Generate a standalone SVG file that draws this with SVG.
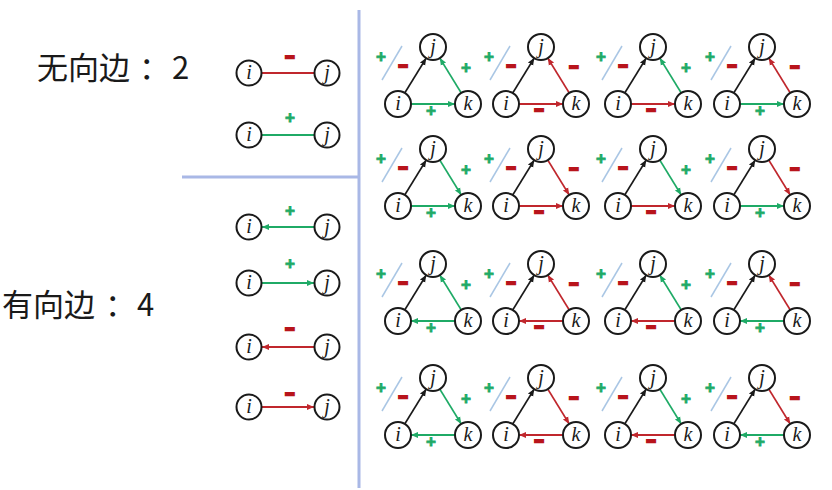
<svg xmlns="http://www.w3.org/2000/svg" width="832" height="490" viewBox="0 0 832 490">
<style>
.bg{fill:#ffffff}
.div{stroke:#a9b8e6;stroke-width:3;fill:none}
.node circle{fill:#ffffff;stroke:#1a1a1a;stroke-width:2}
.node text{font-family:"Liberation Serif",serif;font-style:italic;font-size:20px;text-anchor:middle;fill:#1a1a1a}
.e{fill:none;stroke-width:1.8}
.k{stroke:#1a1a1a;marker-end:url(#ak)}
.g{stroke:#1faa66;marker-end:url(#ag)}
.r{stroke:#c0272d;marker-end:url(#ar)}
.g0{stroke:#1faa66}
.r0{stroke:#c0272d}
.p{font-family:"Liberation Sans",sans-serif;font-weight:bold;font-size:17px;text-anchor:middle;fill:#1faa66;stroke:#1faa66;stroke-width:0.8}
.m{font-family:"Liberation Sans",sans-serif;font-weight:bold;font-size:15px;text-anchor:middle;fill:#b8141b;stroke:#b8141b;stroke-width:2.6}
.sl{stroke:#a9c6e4;stroke-width:1.5;fill:none}
.big{font-family:"Noto Sans CJK SC","Noto Sans",sans-serif;font-size:31px;fill:#1a1a1a}
</style>
<defs>
<marker id="ak" markerUnits="userSpaceOnUse" markerWidth="8" markerHeight="7" refX="7" refY="3.5" orient="auto"><path d="M0,0.5L7,3.5L0,6.5z" fill="#1a1a1a"/></marker>
<marker id="ag" markerUnits="userSpaceOnUse" markerWidth="8" markerHeight="7" refX="7" refY="3.5" orient="auto"><path d="M0,0.5L7,3.5L0,6.5z" fill="#1faa66"/></marker>
<marker id="ar" markerUnits="userSpaceOnUse" markerWidth="8" markerHeight="7" refX="7" refY="3.5" orient="auto"><path d="M0,0.5L7,3.5L0,6.5z" fill="#c0272d"/></marker>
</defs>
<rect class="bg" x="0" y="0" width="832" height="490"/>

<g id="titles">
<text class="big" x="37" y="79">无向边<tspan x="139">：</tspan><tspan x="172">2</tspan></text>
<text class="big" x="2" y="316">有向边<tspan x="105">：</tspan><tspan x="137">4</tspan></text>
</g>

<g id="dividers">
<path class="div" d="M359,10L359,488"/>
<path class="div" d="M182,177L359,177"/>
</g>

<g id="connectors">
<g id="left-edges">
<path class="e r0" d="M262,73L314,73"/>
<path class="e g0" d="M262,135L314,135"/>
<path class="e g" d="M314,227L262,227"/>
<path class="e g" d="M262,283L314,283"/>
<path class="e r" d="M314,347L262,347"/>
<path class="e r" d="M262,407L314,407"/>
</g>
<g id="e-r1c1" transform="translate(433,47)"><path class="e k" d="M-28.2,45.9L-6.8,11.1"/><path class="e g" d="M28.2,45.9L6.8,11.1"/><path class="e g" d="M-22,57L22,57"/></g>
<g id="e-r1c2" transform="translate(541,47)"><path class="e k" d="M-28.2,45.9L-6.8,11.1"/><path class="e r" d="M28.2,45.9L6.8,11.1"/><path class="e r" d="M-22,57L22,57"/></g>
<g id="e-r1c3" transform="translate(653,47)"><path class="e k" d="M-28.2,45.9L-6.8,11.1"/><path class="e g" d="M28.2,45.9L6.8,11.1"/><path class="e r" d="M-22,57L22,57"/></g>
<g id="e-r1c4" transform="translate(762,47)"><path class="e k" d="M-28.2,45.9L-6.8,11.1"/><path class="e r" d="M28.2,45.9L6.8,11.1"/><path class="e g" d="M-22,57L22,57"/></g>

<g id="e-r2c1" transform="translate(433,149)"><path class="e k" d="M-28.2,45.9L-6.8,11.1"/><path class="e g" d="M6.8,11.1L28.2,45.9"/><path class="e g" d="M-22,57L22,57"/></g>
<g id="e-r2c2" transform="translate(541,149)"><path class="e k" d="M-28.2,45.9L-6.8,11.1"/><path class="e r" d="M6.8,11.1L28.2,45.9"/><path class="e r" d="M-22,57L22,57"/></g>
<g id="e-r2c3" transform="translate(653,149)"><path class="e k" d="M-28.2,45.9L-6.8,11.1"/><path class="e g" d="M6.8,11.1L28.2,45.9"/><path class="e r" d="M-22,57L22,57"/></g>
<g id="e-r2c4" transform="translate(762,149)"><path class="e k" d="M-28.2,45.9L-6.8,11.1"/><path class="e r" d="M6.8,11.1L28.2,45.9"/><path class="e g" d="M-22,57L22,57"/></g>

<g id="e-r3c1" transform="translate(433,264)"><path class="e k" d="M-28.2,45.9L-6.8,11.1"/><path class="e g" d="M28.2,45.9L6.8,11.1"/><path class="e g" d="M22,57L-22,57"/></g>
<g id="e-r3c2" transform="translate(541,264)"><path class="e k" d="M-28.2,45.9L-6.8,11.1"/><path class="e r" d="M28.2,45.9L6.8,11.1"/><path class="e r" d="M22,57L-22,57"/></g>
<g id="e-r3c3" transform="translate(653,264)"><path class="e k" d="M-28.2,45.9L-6.8,11.1"/><path class="e g" d="M28.2,45.9L6.8,11.1"/><path class="e r" d="M22,57L-22,57"/></g>
<g id="e-r3c4" transform="translate(762,264)"><path class="e k" d="M-28.2,45.9L-6.8,11.1"/><path class="e r" d="M28.2,45.9L6.8,11.1"/><path class="e g" d="M22,57L-22,57"/></g>

<g id="e-r4c1" transform="translate(433,378)"><path class="e k" d="M-28.2,45.9L-6.8,11.1"/><path class="e g" d="M6.8,11.1L28.2,45.9"/><path class="e g" d="M22,57L-22,57"/></g>
<g id="e-r4c2" transform="translate(541,378)"><path class="e k" d="M-28.2,45.9L-6.8,11.1"/><path class="e r" d="M6.8,11.1L28.2,45.9"/><path class="e r" d="M22,57L-22,57"/></g>
<g id="e-r4c3" transform="translate(653,378)"><path class="e k" d="M-28.2,45.9L-6.8,11.1"/><path class="e g" d="M6.8,11.1L28.2,45.9"/><path class="e r" d="M22,57L-22,57"/></g>
<g id="e-r4c4" transform="translate(762,378)"><path class="e k" d="M-28.2,45.9L-6.8,11.1"/><path class="e r" d="M6.8,11.1L28.2,45.9"/><path class="e g" d="M22,57L-22,57"/></g>
</g>

<g id="labels">
<g id="l-left">
<text class="m" x="290" y="62">−</text>
<text class="p" x="290" y="123">+</text>
<text class="p" x="290" y="216">+</text>
<text class="p" x="290" y="269">+</text>
<text class="m" x="290" y="334">−</text>
<text class="m" x="290" y="399">−</text>
</g>
<g transform="translate(433,47)"><text class="p" x="-52" y="14.5">+</text><path class="sl" d="M-51,33L-31,-1"/><text class="m" x="-30" y="23.5">−</text><text class="p" x="33" y="25.5">+</text><text class="p" x="-2" y="68.5">+</text></g>
<g transform="translate(541,47)"><text class="p" x="-52" y="14.5">+</text><path class="sl" d="M-51,33L-31,-1"/><text class="m" x="-30" y="23.5">−</text><text class="m" x="33" y="24.5">−</text><text class="m" x="-2" y="67.5">−</text></g>
<g transform="translate(653,47)"><text class="p" x="-52" y="14.5">+</text><path class="sl" d="M-51,33L-31,-1"/><text class="m" x="-30" y="23.5">−</text><text class="p" x="33" y="25.5">+</text><text class="m" x="-2" y="67.5">−</text></g>
<g transform="translate(762,47)"><text class="p" x="-52" y="14.5">+</text><path class="sl" d="M-51,33L-31,-1"/><text class="m" x="-30" y="23.5">−</text><text class="m" x="33" y="24.5">−</text><text class="p" x="-2" y="68.5">+</text></g>

<g transform="translate(433,149)"><text class="p" x="-52" y="14.5">+</text><path class="sl" d="M-51,33L-31,-1"/><text class="m" x="-30" y="23.5">−</text><text class="p" x="33" y="25.5">+</text><text class="p" x="-2" y="68.5">+</text></g>
<g transform="translate(541,149)"><text class="p" x="-52" y="14.5">+</text><path class="sl" d="M-51,33L-31,-1"/><text class="m" x="-30" y="23.5">−</text><text class="m" x="33" y="24.5">−</text><text class="m" x="-2" y="67.5">−</text></g>
<g transform="translate(653,149)"><text class="p" x="-52" y="14.5">+</text><path class="sl" d="M-51,33L-31,-1"/><text class="m" x="-30" y="23.5">−</text><text class="p" x="33" y="25.5">+</text><text class="m" x="-2" y="67.5">−</text></g>
<g transform="translate(762,149)"><text class="p" x="-52" y="14.5">+</text><path class="sl" d="M-51,33L-31,-1"/><text class="m" x="-30" y="23.5">−</text><text class="m" x="33" y="24.5">−</text><text class="p" x="-2" y="68.5">+</text></g>

<g transform="translate(433,264)"><text class="p" x="-52" y="14.5">+</text><path class="sl" d="M-51,33L-31,-1"/><text class="m" x="-30" y="23.5">−</text><text class="p" x="33" y="25.5">+</text><text class="p" x="-2" y="68.5">+</text></g>
<g transform="translate(541,264)"><text class="p" x="-52" y="14.5">+</text><path class="sl" d="M-51,33L-31,-1"/><text class="m" x="-30" y="23.5">−</text><text class="m" x="33" y="24.5">−</text><text class="m" x="-2" y="67.5">−</text></g>
<g transform="translate(653,264)"><text class="p" x="-52" y="14.5">+</text><path class="sl" d="M-51,33L-31,-1"/><text class="m" x="-30" y="23.5">−</text><text class="p" x="33" y="25.5">+</text><text class="m" x="-2" y="67.5">−</text></g>
<g transform="translate(762,264)"><text class="p" x="-52" y="14.5">+</text><path class="sl" d="M-51,33L-31,-1"/><text class="m" x="-30" y="23.5">−</text><text class="m" x="33" y="24.5">−</text><text class="p" x="-2" y="68.5">+</text></g>

<g transform="translate(433,378)"><text class="p" x="-52" y="14.5">+</text><path class="sl" d="M-51,33L-31,-1"/><text class="m" x="-30" y="23.5">−</text><text class="p" x="33" y="25.5">+</text><text class="p" x="-2" y="68.5">+</text></g>
<g transform="translate(541,378)"><text class="p" x="-52" y="14.5">+</text><path class="sl" d="M-51,33L-31,-1"/><text class="m" x="-30" y="23.5">−</text><text class="m" x="33" y="24.5">−</text><text class="m" x="-2" y="67.5">−</text></g>
<g transform="translate(653,378)"><text class="p" x="-52" y="14.5">+</text><path class="sl" d="M-51,33L-31,-1"/><text class="m" x="-30" y="23.5">−</text><text class="p" x="33" y="25.5">+</text><text class="m" x="-2" y="67.5">−</text></g>
<g transform="translate(762,378)"><text class="p" x="-52" y="14.5">+</text><path class="sl" d="M-51,33L-31,-1"/><text class="m" x="-30" y="23.5">−</text><text class="m" x="33" y="24.5">−</text><text class="p" x="-2" y="68.5">+</text></g>
</g>

<g id="nodes">
<g id="u1-i" class="node" transform="translate(249,73)"><circle r="12.5"/><text y="6">i</text></g>
<g id="u1-j" class="node" transform="translate(327,73)"><circle r="12.5"/><text y="6">j</text></g>
<g id="u2-i" class="node" transform="translate(249,135)"><circle r="12.5"/><text y="6">i</text></g>
<g id="u2-j" class="node" transform="translate(327,135)"><circle r="12.5"/><text y="6">j</text></g>
<g id="d1-i" class="node" transform="translate(249,227)"><circle r="12.5"/><text y="6">i</text></g>
<g id="d1-j" class="node" transform="translate(327,227)"><circle r="12.5"/><text y="6">j</text></g>
<g id="d2-i" class="node" transform="translate(249,283)"><circle r="12.5"/><text y="6">i</text></g>
<g id="d2-j" class="node" transform="translate(327,283)"><circle r="12.5"/><text y="6">j</text></g>
<g id="d3-i" class="node" transform="translate(249,347)"><circle r="12.5"/><text y="6">i</text></g>
<g id="d3-j" class="node" transform="translate(327,347)"><circle r="12.5"/><text y="6">j</text></g>
<g id="d4-i" class="node" transform="translate(249,407)"><circle r="12.5"/><text y="6">i</text></g>
<g id="d4-j" class="node" transform="translate(327,407)"><circle r="12.5"/><text y="6">j</text></g>

<g id="r1c1-j" class="node" transform="translate(433,47)"><circle r="13"/><text y="6">j</text></g>
<g id="r1c1-i" class="node" transform="translate(398,104)"><circle r="13"/><text y="6">i</text></g>
<g id="r1c1-k" class="node" transform="translate(468,104)"><circle r="13"/><text y="6">k</text></g>
<g id="r1c2-j" class="node" transform="translate(541,47)"><circle r="13"/><text y="6">j</text></g>
<g id="r1c2-i" class="node" transform="translate(506,104)"><circle r="13"/><text y="6">i</text></g>
<g id="r1c2-k" class="node" transform="translate(576,104)"><circle r="13"/><text y="6">k</text></g>
<g id="r1c3-j" class="node" transform="translate(653,47)"><circle r="13"/><text y="6">j</text></g>
<g id="r1c3-i" class="node" transform="translate(618,104)"><circle r="13"/><text y="6">i</text></g>
<g id="r1c3-k" class="node" transform="translate(688,104)"><circle r="13"/><text y="6">k</text></g>
<g id="r1c4-j" class="node" transform="translate(762,47)"><circle r="13"/><text y="6">j</text></g>
<g id="r1c4-i" class="node" transform="translate(727,104)"><circle r="13"/><text y="6">i</text></g>
<g id="r1c4-k" class="node" transform="translate(797,104)"><circle r="13"/><text y="6">k</text></g>

<g id="r2c1-j" class="node" transform="translate(433,149)"><circle r="13"/><text y="6">j</text></g>
<g id="r2c1-i" class="node" transform="translate(398,206)"><circle r="13"/><text y="6">i</text></g>
<g id="r2c1-k" class="node" transform="translate(468,206)"><circle r="13"/><text y="6">k</text></g>
<g id="r2c2-j" class="node" transform="translate(541,149)"><circle r="13"/><text y="6">j</text></g>
<g id="r2c2-i" class="node" transform="translate(506,206)"><circle r="13"/><text y="6">i</text></g>
<g id="r2c2-k" class="node" transform="translate(576,206)"><circle r="13"/><text y="6">k</text></g>
<g id="r2c3-j" class="node" transform="translate(653,149)"><circle r="13"/><text y="6">j</text></g>
<g id="r2c3-i" class="node" transform="translate(618,206)"><circle r="13"/><text y="6">i</text></g>
<g id="r2c3-k" class="node" transform="translate(688,206)"><circle r="13"/><text y="6">k</text></g>
<g id="r2c4-j" class="node" transform="translate(762,149)"><circle r="13"/><text y="6">j</text></g>
<g id="r2c4-i" class="node" transform="translate(727,206)"><circle r="13"/><text y="6">i</text></g>
<g id="r2c4-k" class="node" transform="translate(797,206)"><circle r="13"/><text y="6">k</text></g>

<g id="r3c1-j" class="node" transform="translate(433,264)"><circle r="13"/><text y="6">j</text></g>
<g id="r3c1-i" class="node" transform="translate(398,321)"><circle r="13"/><text y="6">i</text></g>
<g id="r3c1-k" class="node" transform="translate(468,321)"><circle r="13"/><text y="6">k</text></g>
<g id="r3c2-j" class="node" transform="translate(541,264)"><circle r="13"/><text y="6">j</text></g>
<g id="r3c2-i" class="node" transform="translate(506,321)"><circle r="13"/><text y="6">i</text></g>
<g id="r3c2-k" class="node" transform="translate(576,321)"><circle r="13"/><text y="6">k</text></g>
<g id="r3c3-j" class="node" transform="translate(653,264)"><circle r="13"/><text y="6">j</text></g>
<g id="r3c3-i" class="node" transform="translate(618,321)"><circle r="13"/><text y="6">i</text></g>
<g id="r3c3-k" class="node" transform="translate(688,321)"><circle r="13"/><text y="6">k</text></g>
<g id="r3c4-j" class="node" transform="translate(762,264)"><circle r="13"/><text y="6">j</text></g>
<g id="r3c4-i" class="node" transform="translate(727,321)"><circle r="13"/><text y="6">i</text></g>
<g id="r3c4-k" class="node" transform="translate(797,321)"><circle r="13"/><text y="6">k</text></g>

<g id="r4c1-j" class="node" transform="translate(433,378)"><circle r="13"/><text y="6">j</text></g>
<g id="r4c1-i" class="node" transform="translate(398,435)"><circle r="13"/><text y="6">i</text></g>
<g id="r4c1-k" class="node" transform="translate(468,435)"><circle r="13"/><text y="6">k</text></g>
<g id="r4c2-j" class="node" transform="translate(541,378)"><circle r="13"/><text y="6">j</text></g>
<g id="r4c2-i" class="node" transform="translate(506,435)"><circle r="13"/><text y="6">i</text></g>
<g id="r4c2-k" class="node" transform="translate(576,435)"><circle r="13"/><text y="6">k</text></g>
<g id="r4c3-j" class="node" transform="translate(653,378)"><circle r="13"/><text y="6">j</text></g>
<g id="r4c3-i" class="node" transform="translate(618,435)"><circle r="13"/><text y="6">i</text></g>
<g id="r4c3-k" class="node" transform="translate(688,435)"><circle r="13"/><text y="6">k</text></g>
<g id="r4c4-j" class="node" transform="translate(762,378)"><circle r="13"/><text y="6">j</text></g>
<g id="r4c4-i" class="node" transform="translate(727,435)"><circle r="13"/><text y="6">i</text></g>
<g id="r4c4-k" class="node" transform="translate(797,435)"><circle r="13"/><text y="6">k</text></g>
</g>
</svg>
